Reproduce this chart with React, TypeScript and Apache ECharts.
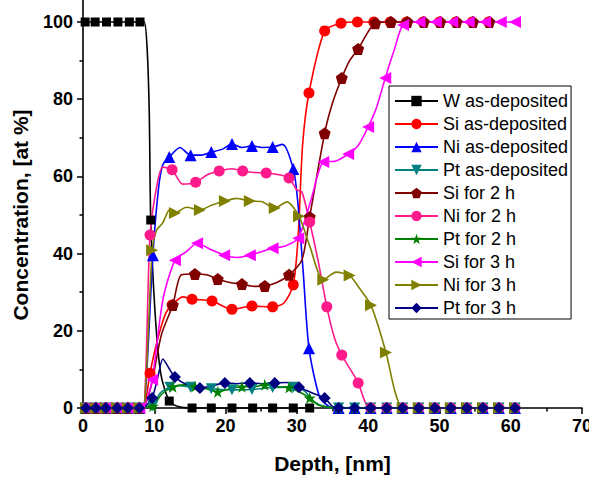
import React, { useEffect, useRef } from "react";
import * as echarts from "echarts";

// ---------- data (depth in nm, concentration in at %) ----------
const X_TICKS = [0, 10, 20, 30, 40, 50, 60, 70];
const Y_TICKS = [0, 20, 40, 60, 80, 100];

const LEGEND_NAMES = [
  "W as-deposited",
  "Si as-deposited",
  "Ni as-deposited",
  "Pt as-deposited",
  "Si for 2 h",
  "Ni for 2 h",
  "Pt for 2 h",
  "Si for 3 h",
  "Ni for 3 h",
  "Pt for 3 h",
];

// W as-deposited
const W_D = [0.3, 1.7, 3.3, 4.9, 6.5, 8.0, 9.5, 12.1, 15.3, 18.0, 20.9, 23.8, 26.6, 29.5, 31.8];
const W_C = [100, 100, 100, 100, 100, 100, 48.7, 1.8, 0, 0, 0, 0, 0, 0, 0];
const W_CD = [8.6, 9.0, 9.3, 10.1, 10.9, 13.5];
const W_CC = [100, 93, 76, 25, 9, 0.3];

// Si as-deposited
const SI0_D = [0.4, 1.8, 3.2, 4.8, 6.3, 7.9, 9.4, 12.5, 15.3, 18.1, 20.9, 23.7, 26.6, 29.5, 31.7, 33.9, 36.2, 38.5, 40.8, 43.1, 45.4, 47.7, 50.0, 52.3, 54.6, 56.9];
const SI0_C = [0, 0, 0, 0, 0, 0, 9, 26.7, 28.2, 27.7, 25.6, 26.4, 26.2, 31.9, 81.6, 97.7, 99.7, 100, 100, 100, 100, 100, 100, 100, 100, 100];
const SI0_CD = [8.6, 10.5, 11.6, 14.0, 28.2, 30.2, 30.8];
const SI0_CC = [0.3, 18, 24.5, 28.8, 27.2, 45, 68];

// Ni as-deposited
const NI0_D = [0.4, 1.8, 3.2, 4.8, 6.3, 7.9, 9.8, 12.1, 15.1, 18.0, 20.9, 23.7, 26.6, 29.5, 31.7, 35.85, 38.1, 40.35, 42.6, 44.85, 47.1, 49.35, 51.6, 53.85, 56.1, 58.35, 60.6];
const NI0_C = [0, 0, 0, 0, 0, 0, 39.6, 65, 65.5, 66.3, 68.4, 67.9, 67.6, 61.9, 15.5, 0, 0, 0, 0, 0, 0, 0, 0, 0, 0, 0, 0];
const NI0_CD = [8.6, 10.6, 11.2, 13.6, 16.5, 19.5, 22.3, 25.2, 28.0, 30.1, 30.9, 33.2, 34.6];
const NI0_CC = [0.3, 57, 63, 67.5, 65.5, 67, 67.5, 67.5, 68.3, 54, 35, 2.8, 0.3];

// Pt as-deposited
const PT0_D = [0.4, 1.8, 3.2, 4.8, 6.3, 7.9, 9.8, 12.2, 15.1, 18.0, 20.9, 23.7, 26.6, 29.5, 35.85, 38.1, 40.35, 42.6, 44.85, 47.1, 49.35, 51.6, 53.85, 56.1, 58.35, 60.6];
const PT0_C = [0, 0, 0, 0, 0, 0, 0.5, 5.4, 5.4, 5.0, 4.7, 4.8, 5.3, 5.4, 0, 0, 0, 0, 0, 0, 0, 0, 0, 0, 0, 0];
const PT0_CD = [8.6, 10.8, 13.6, 31.0, 32.5, 34.0];
const PT0_CC = [0.2, 3.8, 5.8, 4.5, 1.5, 0.3];

// Si for 2 h
const SI2_D = [0.4, 1.8, 3.2, 4.8, 6.3, 7.9, 12.6, 15.7, 18.9, 22.3, 25.5, 28.9, 31.8, 33.9, 36.3, 38.6, 41.0, 43.2, 45.5, 47.8, 50.1, 52.4, 54.7, 57.0];
const SI2_C = [0, 0, 0, 0, 0, 0, 26.7, 34.7, 33.4, 32.1, 31.6, 34.5, 49.5, 71.2, 85.5, 93, 99.7, 100, 100, 100, 100, 100, 100, 100];
const SI2_CD = [8.6, 9.6, 11.0, 13.8, 17.3, 20.6, 24.0, 27.2, 30.7, 35.0, 37.4];
const SI2_CC = [0.3, 6, 19, 34.5, 34.5, 32.5, 31.5, 32.5, 38.3, 79, 90];

// Ni for 2 h
const NI2_D = [0.4, 1.8, 3.2, 4.8, 6.3, 7.9, 9.4, 12.5, 15.8, 19.1, 22.4, 25.7, 28.9, 31.8, 34.2, 36.3, 38.6, 40.35, 42.6, 44.85, 47.1, 49.35, 51.6, 53.85, 56.1, 58.35, 60.6];
const NI2_C = [0, 0, 0, 0, 0, 0, 44.8, 61.7, 58.5, 61.4, 61.4, 60.9, 59.6, 48.2, 26.2, 13.7, 6.5, 0, 0, 0, 0, 0, 0, 0, 0, 0, 0];
const NI2_CD = [8.6, 10.4, 11.2, 14.0, 17.5, 20.8, 24.0, 27.3, 30.0, 30.7, 33.0, 35.3, 37.5, 39.7];
const NI2_CC = [0.3, 58, 62.4, 58, 60.5, 62, 61, 60.5, 56.5, 56, 38, 18, 10, 1];

// Pt for 2 h
const PT2_D = [0.4, 1.8, 3.2, 4.8, 6.3, 7.9, 9.8, 12.6, 15.7, 18.9, 22.3, 25.5, 28.9, 31.8, 35.85, 38.1, 40.35, 42.6, 44.85, 47.1, 49.35, 51.6, 53.85, 56.1, 58.35, 60.6];
const PT2_C = [0, 0, 0, 0, 0, 0, 0.5, 5.5, 5.6, 4.2, 5.5, 6.0, 5.3, 2.6, 0, 0, 0, 0, 0, 0, 0, 0, 0, 0, 0, 0];
const PT2_CD = [8.6, 11.0, 14.2, 17.3, 20.6, 24.0, 27.2, 30.5, 33.0, 34.5];
const PT2_CC = [0.2, 3.5, 6, 5, 5, 5.5, 5.5, 4, 0.8, 0.2];

// Si for 3 h
const SI3_D = [0.4, 1.8, 3.2, 4.8, 6.3, 7.9, 9.7, 12.9, 16.0, 19.8, 23.4, 26.6, 30.2, 33.7, 37.2, 40.0, 42.4, 44.9, 47.2, 49.5, 51.8, 54.1, 56.4, 58.6, 60.6];
const SI3_C = [0, 0, 0, 0, 0, 0, 7.3, 38.3, 42.7, 39.6, 39.6, 41.4, 44, 63.7, 65.8, 72.8, 85.5, 99.2, 100, 100, 100, 100, 100, 100, 100];
const SI3_CD = [8.6, 11.2, 14.5, 18.0, 21.6, 25.0, 28.4, 32.0, 35.5, 38.6, 41.2, 43.7, 61.3];
const SI3_CC = [0.3, 28, 40.5, 41, 39, 40.5, 42, 54, 64, 68, 78, 93, 100];

// Ni for 3 h
const NI3_D = [0.4, 1.8, 3.2, 4.8, 6.3, 7.9, 9.7, 12.9, 16.4, 19.9, 23.4, 26.9, 30.3, 33.7, 37.4, 40.4, 42.5, 44.85, 47.1, 49.35, 51.6, 53.85, 56.1, 58.35, 60.6];
const NI3_C = [0, 0, 0, 0, 0, 0, 40.9, 50.5, 51.3, 53.6, 53.6, 51.8, 49.7, 33.2, 34.3, 26.6, 14.4, 0, 0, 0, 0, 0, 0, 0, 0];
const NI3_CD = [8.6, 10.3, 11.2, 12.2, 14.5, 18.0, 21.5, 25.0, 28.6, 31.8, 35.5, 38.8, 43.8];
const NI3_CC = [0.3, 46, 48, 51.5, 52, 52.5, 54.3, 53.5, 53.4, 42, 35.2, 31, 4];

// Pt for 3 h
const PT3_D = [0.4, 1.8, 3.2, 4.8, 6.3, 7.9, 9.7, 12.9, 16.4, 19.9, 23.4, 26.9, 30.3, 33.9, 35.85, 38.1, 40.35, 42.6, 44.85, 47.1, 49.35, 51.6, 53.85, 56.1, 58.35, 60.6];
const PT3_C = [0, 0, 0, 0, 0, 0, 2.6, 8.0, 5.2, 6.5, 6.5, 6.5, 5.4, 2.6, 0, 0, 0, 0, 0, 0, 0, 0, 0, 0, 0, 0];
const PT3_CD = [8.6, 10.5, 11.2, 12.0, 14.6, 18.2, 21.6, 25.1, 28.6, 32.0, 35.0];
const PT3_CC = [0.2, 8, 12.7, 10.5, 6, 5.8, 6.3, 6.3, 6.6, 4, 0.4];

// ---------- styling ----------
const FONT = "Arial, 'Liberation Sans', Helvetica, sans-serif";
const SYM = {
  rect: "rect",
  circle: "circle",
  up: "triangle",
  down: "path://M0,0 L10,0 L5,9 Z",
  pentagon: "path://M50,0 L97.6,34.5 L79.4,90.5 L20.6,90.5 L2.4,34.5 Z",
  star: "path://M50,0 L61.8,35.1 L97.6,34.5 L69.1,56.7 L79.4,90.5 L50,70 L20.6,90.5 L30.9,56.7 L2.4,34.5 L38.2,35.1 Z",
  left: "path://M0,5 L9,0 L9,10 Z",
  right: "path://M0,0 L9,5 L0,10 Z",
  diamond: "diamond",
};

function build(md: number[], mc: number[], cd: number[], cc: number[]) {
  const pts: any[] = [];
  md.forEach((x, i) => pts.push({ value: [x, mc[i]] }));
  cd.forEach((x, i) => pts.push({ value: [x, cc[i]], symbol: "none" }));
  pts.sort((a, b) => a.value[0] - b.value[0]);
  return pts;
}

const SERIES_DEF = [
  { d: W_D, c: W_C, cd: W_CD, cc: W_CC, color: "#000000", sym: SYM.rect, size: 9 },
  { d: SI0_D, c: SI0_C, cd: SI0_CD, cc: SI0_CC, color: "#ff0000", sym: SYM.circle, size: 11 },
  { d: NI0_D, c: NI0_C, cd: NI0_CD, cc: NI0_CC, color: "#0000ff", sym: SYM.up, size: 12 },
  { d: PT0_D, c: PT0_C, cd: PT0_CD, cc: PT0_CC, color: "#008080", sym: SYM.down, size: 11 },
  { d: SI2_D, c: SI2_C, cd: SI2_CD, cc: SI2_CC, color: "#800000", sym: SYM.pentagon, size: 12 },
  { d: NI2_D, c: NI2_C, cd: NI2_CD, cc: NI2_CC, color: "#ff1a8c", sym: SYM.circle, size: 11 },
  { d: PT2_D, c: PT2_C, cd: PT2_CD, cc: PT2_CC, color: "#008000", sym: SYM.star, size: 12 },
  { d: SI3_D, c: SI3_C, cd: SI3_CD, cc: SI3_CC, color: "#ff00ff", sym: SYM.left, size: 12 },
  { d: NI3_D, c: NI3_C, cd: NI3_CD, cc: NI3_CC, color: "#808000", sym: SYM.right, size: 12 },
  { d: PT3_D, c: PT3_C, cd: PT3_CD, cc: PT3_CC, color: "#000080", sym: SYM.diamond, size: 12 },
];

export default function App() {
  const ref = useRef<HTMLDivElement>(null);
  useEffect(() => {
    if (!ref.current) return;
    const chart = echarts.init(ref.current, undefined, { renderer: "svg" });
    const series = SERIES_DEF.map((s, i) => ({
      name: LEGEND_NAMES[i],
      type: "line",
      data: build(s.d, s.c, s.cd, s.cc),
      smooth: 0.25,
      symbol: s.sym,
      symbolSize: s.size,
      showAllSymbol: true,
      clip: false,
      lineStyle: { color: s.color, width: 1.6 },
      itemStyle: { color: s.color, borderWidth: 0 },
      emphasis: { disabled: true },
    }));
    chart.setOption({
      animation: false,
      backgroundColor: "#ffffff",
      grid: {
        left: 83,
        right: 7,
        top: 22,
        bottom: 73,
        containLabel: false,
        outerBoundsMode: "none",
      },
      xAxis: {
        type: "value",
        min: X_TICKS[0],
        max: X_TICKS[X_TICKS.length - 1],
        interval: 10,
        name: "Depth, [nm]",
        nameLocation: "middle",
        nameGap: 45,
        nameTextStyle: { fontFamily: FONT, fontWeight: "bold", fontSize: 21, color: "#000" },
        axisLine: { onZero: false, lineStyle: { color: "#000", width: 1.6 } },
        axisTick: { show: true, inside: false, length: 6, lineStyle: { color: "#000", width: 1.5 } },
        minorTick: { show: true, splitNumber: 2, length: 3.5, lineStyle: { color: "#000", width: 1.5 } },
        splitLine: { show: false },
        axisLabel: { fontFamily: FONT, fontWeight: "bold", fontSize: 18, color: "#000", margin: 9 },
      },
      yAxis: {
        type: "value",
        min: Y_TICKS[0],
        max: Y_TICKS[Y_TICKS.length - 1],
        interval: 20,
        name: "Concentration, [at %]",
        nameLocation: "middle",
        nameGap: 52,
        nameTextStyle: { fontFamily: FONT, fontWeight: "bold", fontSize: 21, color: "#000" },
        axisLine: { show: true, onZero: false, lineStyle: { color: "#000", width: 1.6 } },
        axisTick: { show: true, inside: false, length: 6, lineStyle: { color: "#000", width: 1.5 } },
        minorTick: { show: true, splitNumber: 2, length: 3.5, lineStyle: { color: "#000", width: 1.5 } },
        splitLine: { show: false },
        axisLabel: { fontFamily: FONT, fontWeight: "bold", fontSize: 18, color: "#000", margin: 10 },
      },
      legend: {
        data: LEGEND_NAMES,
        orient: "vertical",
        left: 389,
        top: 86,
        backgroundColor: "#ffffff",
        borderColor: "#000",
        borderWidth: 1,
        borderRadius: 0,
        padding: [6, 3, 2, 5],
        itemWidth: 43,
        itemHeight: 13,
        itemGap: 5,
        selectedMode: false,
        textStyle: { fontFamily: FONT, fontSize: 18, color: "#000" },
      },
      graphic: [
        {
          type: "line",
          shape: { x1: 83, y1: 0, x2: 83, y2: 23 },
          style: { stroke: "#000", lineWidth: 1.6 },
          silent: true,
        },
      ],
      series,
    });
    return () => chart.dispose();
  }, []);
  return (
    <div
      ref={ref}
      style={{ position: "absolute", left: 0, top: 0, width: 589, height: 481 }}
    />
  );
}
